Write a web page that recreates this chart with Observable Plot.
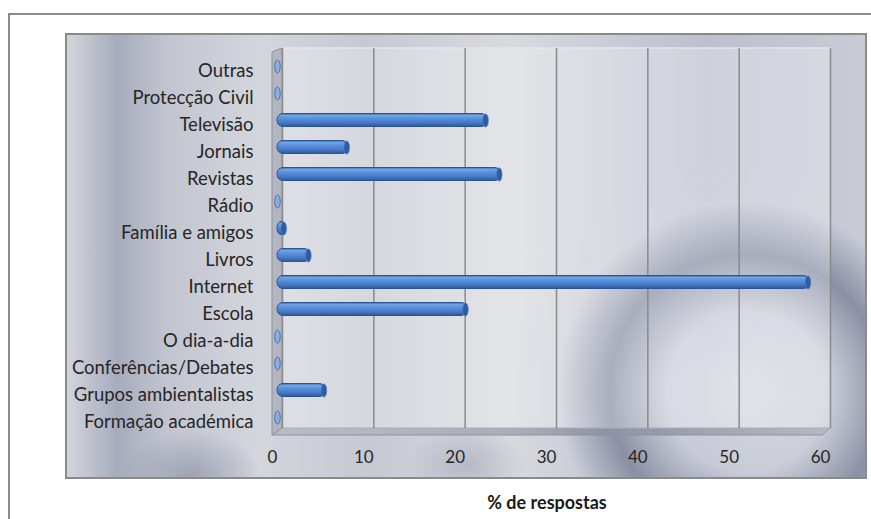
<!DOCTYPE html>
<html>
<head>
<meta charset="utf-8">
<script src="https://cdn.jsdelivr.net/npm/d3@7"></script>
<script src="https://cdn.jsdelivr.net/npm/@observablehq/plot@0.6"></script>
<style>
  html, body { margin: 0; padding: 0; background: #ffffff; }
  body { width: 871px; height: 519px; position: relative; overflow: hidden; font-family: Lato, "Open Sans", sans-serif; }
  #outer { position: absolute; left: 8px; top: 13px; width: 900px; height: 600px; border-left: 2px solid #8c8c8c; border-top: 2px solid #8c8c8c; }
  #panel { position: absolute; left: 65px; top: 33px; width: 798px; height: 442px; border: 2px solid #8a8a8a;
    background:
      radial-gradient(circle at 680px 357px, rgba(236,237,242,0.5) 0px, rgba(222,224,231,0.3) 80px, rgba(108,115,142,0.68) 138px, rgba(200,203,214,0.25) 190px, rgba(0,0,0,0) 235px),
      radial-gradient(ellipse 70px 45px at 125px 440px, rgba(125,132,156,0.55) 0px, rgba(0,0,0,0) 100%),
      radial-gradient(ellipse 60px 40px at 400px 430px, rgba(125,132,156,0.35) 0px, rgba(0,0,0,0) 100%),
      linear-gradient(90deg, #d3d5dc 0px, #a6acbd 50px, #c2c5cf 100px, #d4d6dd 190px, #c6c9d2 300px, #d8dadf 440px, #bcc0ce 640px, #c9ccd5 798px);
  }
  #chart { position: absolute; left: 0; top: 0; }
  #xlabel { position: absolute; left: 447px; width: 200px; top: 492px; line-height: 20px; text-align: center; font-weight: bold; font-size: 18px; color: #1a1a1a; font-family: Lato, sans-serif; }
</style>
</head>
<body>
<div id="outer"></div>
<div id="panel"></div>
<div id="chart"></div>
<div id="xlabel">% de respostas</div>
<script>
const categories = ["Outras", "Protecção Civil", "Televisão", "Jornais", "Revistas", "Rádio", "Família e amigos", "Livros", "Internet", "Escola", "O dia-a-dia", "Conferências/Debates", "Grupos ambientalistas", "Formação académica"];
const values = [0, 0, 23, 7.8, 24.5, 0, 0.9, 3.6, 58.3, 20.8, 0, 0, 5.3, 0];
const xTicks = [0, 10, 20, 30, 40, 50, 60];

const data = categories.map((c, i) => ({category: c, value: values[i]}));

// ellipse symbol (cylinder cross-section)
const ellipse = {
  draw(context, size) {
    const r = Math.sqrt(size / Math.PI);
    const ry = r, rx = r * 0.42, k = 0.5523;
    context.moveTo(rx, 0);
    context.bezierCurveTo(rx, ry * k, rx * k, ry, 0, ry);
    context.bezierCurveTo(-rx * k, ry, -rx, ry * k, -rx, 0);
    context.bezierCurveTo(-rx, -ry * k, -rx * k, -ry, 0, -ry);
    context.bezierCurveTo(rx * k, -ry, rx, -ry * k, rx, 0);
    context.closePath();
  }
};

const chart = Plot.plot({
  width: 871,
  height: 519,
  marginLeft: 282,
  marginRight: 41,
  marginTop: 48,
  marginBottom: 91,
  style: {background: "transparent", fontFamily: "Lato, sans-serif", fontSize: "18px", color: "#262626", overflow: "visible"},
  x: {domain: [0, 60], ticks: xTicks, label: null},
  y: {domain: categories, range: [56.5, 435.5], padding: 0, label: null},
  marks: [
    Plot.frame({fill: "white", fillOpacity: 0.28, stroke: null}),
    Plot.gridX(xTicks, {stroke: "#8a8a8a", strokeOpacity: 1, strokeWidth: 1.5}),
    Plot.barX(data, {x: "value", y: "category", dx: -5, dy: -4.5, insetTop: 7, insetBottom: 7, rx: 6, fill: "url(#cyl)", stroke: "#2c5491", strokeWidth: 1}),
    Plot.dot(data.filter(d => d.value > 0), {x: "value", y: "category", dx: -7, dy: -4.5, symbol: ellipse, r: 6.5, fill: "#2f5c9c", stroke: "#4a7cc0", strokeWidth: 0.8}),
    Plot.dot(data.filter(d => d.value === 0), {x: "value", y: "category", dx: -5, dy: -4.5, symbol: ellipse, r: 6.5, fill: "#8eaedb", stroke: "#4672b0", strokeWidth: 1}),
    Plot.axisX(xTicks, {tickSize: 0, tickPadding: 22, dx: -10, fontSize: 17, label: null}),
    Plot.axisY({tickSize: 0, tickPadding: 29, fontSize: 18.5, label: null})
  ]
});

// decorations: gradient for cylinders, left wall and floor
const svgSel = d3.select(chart);
const defs = svgSel.insert("defs", ":first-child");
const cg = defs.append("linearGradient").attr("id", "cyl").attr("x1", 0).attr("y1", 0).attr("x2", 0).attr("y2", 1);
[[0, "#34609e"], [0.14, "#72a5e6"], [0.38, "#5a90dc"], [0.72, "#4678c4"], [1, "#2e5796"]]
  .forEach(([o, c]) => cg.append("stop").attr("offset", o).attr("stop-color", c));
const fg = defs.append("linearGradient").attr("id", "floorGrad").attr("x1", 0).attr("y1", 0).attr("x2", 1).attr("y2", 0);
[[0, "#b9bcc5"], [0.45, "#a9adb9"], [0.6, "#8d93a6"], [1, "#b7bac3"]]
  .forEach(([o, c]) => fg.append("stop").attr("offset", o).attr("stop-color", c));

const xs = chart.scale("x");
const wallX0 = xs.apply(0), wallX1 = xs.apply(60);
const wallTop = 48, wallBottom = 519 - 91;
const firstMark = chart.querySelector(":scope > g, :scope > rect");
const deco = document.createElementNS("http://www.w3.org/2000/svg", "g");
chart.insertBefore(deco, firstMark);
const dsel = d3.select(deco);
dsel.append("polygon")
  .attr("points", `${wallX0 - 10},${wallTop + 4} ${wallX0},${wallTop} ${wallX0},${wallBottom} ${wallX0 - 10},${wallBottom + 7}`)
  .attr("fill", "#b3b6c0").attr("stroke", "#8f929b").attr("stroke-width", 1);
dsel.append("polygon")
  .attr("points", `${wallX0},${wallBottom} ${wallX1},${wallBottom} ${wallX1 - 8},${wallBottom + 7} ${wallX0 - 10},${wallBottom + 7}`)
  .attr("fill", "url(#floorGrad)").attr("stroke", "#8f929b").attr("stroke-width", 1);
dsel.append("line")
  .attr("x1", wallX0).attr("x2", wallX1).attr("y1", wallTop).attr("y2", wallTop)
  .attr("stroke", "#e4e5ea").attr("stroke-width", 1.5);

document.getElementById("chart").appendChild(chart);
</script>
</body>
</html>
